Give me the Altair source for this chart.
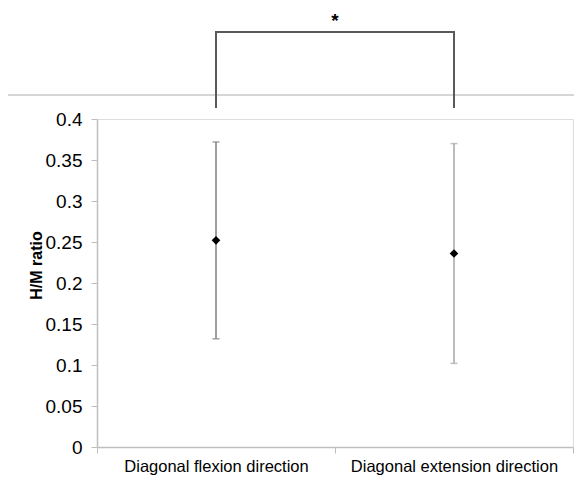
import altair as alt
import pandas as pd

categories = ["Diagonal flexion direction", "Diagonal extension direction"]
means = [0.252, 0.236]
upper = [0.372, 0.370]
lower = [0.132, 0.102]
bar_colors = ["#7f7f7f", "#a6a6a6"]
y_ticks = [0, 0.05, 0.1, 0.15, 0.2, 0.25, 0.3, 0.35, 0.4]

# significance bracket (data units, above the plot range)
bracket_low = 0.4135
bracket_high = 0.506
separator_y = 0.4293
star_y = 0.530

df = pd.DataFrame({"cat": categories, "mean": means, "hi": upper, "lo": lower, "col": bar_colors})
br = pd.DataFrame({
    "cat": [categories[0], categories[0], categories[1], categories[1]],
    "y": [bracket_low, bracket_high, bracket_high, bracket_low],
    "o": [0, 1, 2, 3],
})
star = pd.DataFrame({"cat": [categories[0]], "y": [star_y], "t": ["*"]})
sep = pd.DataFrame({"y": [separator_y]})

narrow = "Liberation Sans Narrow, Arial Narrow, sans-serif"

xenc = alt.X("cat:N", sort=categories, scale=alt.Scale(domain=categories, paddingInner=0, paddingOuter=0),
             axis=alt.Axis(title=None, labelAngle=0, labelFont=narrow, labelFontSize=16.5, labelColor="#000",
                           labelAlign="center", labelLimit=400, labelBound=False, labelOverlap=False,
                           tickBand="extent", domainColor="#bfbfbf", tickColor="#bfbfbf", tickSize=6,
                           labelPadding=13, domainWidth=1.5))
yscale = alt.Scale(domain=[0, 0.4], nice=False)
yaxis = alt.Axis(title="H/M ratio", values=y_ticks, labelExpr="format(datum.value, '~g')",
                 labelFont=narrow, labelFontSize=19, labelColor="#000", grid=False,
                 domainColor="#bfbfbf", tickColor="#bfbfbf", tickSize=6, labelPadding=9, domainWidth=1.5,
                 titleFont="Liberation Sans, Arial, sans-serif", titleFontSize=16, titleFontWeight="bold",
                 titleColor="#000", titleX=-61, titleY=146, titleAlign="center", titleBaseline="middle",
                 titleAngle=-90)

base = alt.Chart(df)
bars = base.mark_rule(strokeWidth=1.5).encode(
    x=xenc, y=alt.Y("lo:Q", scale=yscale, axis=yaxis), y2="hi:Q",
    color=alt.Color("col:N", scale=None))
caps_hi = base.mark_tick(orient="horizontal", size=7, thickness=1.5).encode(
    x=alt.X("cat:N", sort=categories), y=alt.Y("hi:Q", scale=yscale), color=alt.Color("col:N", scale=None))
caps_lo = base.mark_tick(orient="horizontal", size=7, thickness=1.5).encode(
    x=alt.X("cat:N", sort=categories), y=alt.Y("lo:Q", scale=yscale), color=alt.Color("col:N", scale=None))
pts = base.mark_point(shape="diamond", filled=True, color="#000", size=75, opacity=1).encode(
    x=alt.X("cat:N", sort=categories), y=alt.Y("mean:Q", scale=yscale))

separator = alt.Chart(sep).mark_rule(color="#c8c8c8", strokeWidth=1.5).encode(
    y=alt.Y("y:Q", scale=yscale), x=alt.value(-89), x2=alt.value(477))
bracket = alt.Chart(br).mark_line(color="#595959", strokeWidth=2).encode(
    x=alt.X("cat:N", sort=categories), y=alt.Y("y:Q", scale=yscale), order="o:Q")
star_t = alt.Chart(star).mark_text(fontSize=19, font="Liberation Sans, Arial, sans-serif",
                                   fontWeight="bold", color="#000", baseline="top").encode(
    x=alt.X("cat:N", sort=categories, bandPosition=1), y=alt.Y("y:Q", scale=yscale), text="t:N")

chart = alt.layer(separator, bracket, star_t, bars, caps_hi, caps_lo, pts).properties(
    width=476, height=328,
    autosize=alt.AutoSizeParams(type="none"),
    padding={"left": 89, "top": 111, "right": 1, "bottom": 45},
).configure_view(stroke=None).configure(background="#ffffff")

chart.save("out.html", embed_options={"renderer": "svg", "actions": False})
